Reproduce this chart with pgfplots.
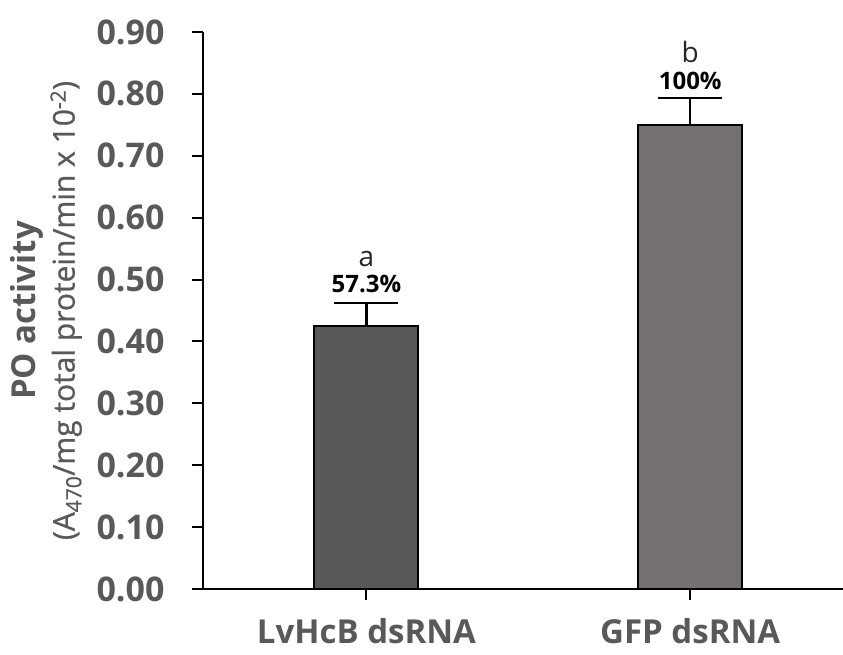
\documentclass[border=0pt]{standalone}
\usepackage{fontspec}
\setmainfont{Open Sans}
\newfontfamily\osmed[FakeBold=0.8]{Open Sans}
\usepackage{pgfplots}
\pgfplotsset{compat=1.18}
\definecolor{tgray}{HTML}{595959}
\definecolor{barA}{HTML}{595959}
\definecolor{barB}{HTML}{767171}
\begin{document}
\begin{tikzpicture}
\useasboundingbox (-203pt,-66pt) rectangle (640pt,589pt);
\begin{axis}[
  scale only axis, width=640pt, height=557pt,
  anchor=south west, at={(0pt,0pt)},
  xmin=-0.505, xmax=1.472, ymin=0, ymax=0.9,
  axis x line*=bottom, axis y line*=left,
  axis line style={line width=2pt, black, -},
  tick align=outside, major tick length=11pt,
  tick style={line width=2pt, black},
  xtick={0,1}, xticklabels={LvHcB dsRNA, GFP dsRNA},
  ytick={0,0.1,0.2,0.3,0.4,0.5,0.6,0.7,0.8,0.9},
  yticklabel style={/pgf/number format/fixed, /pgf/number format/fixed zerofill, /pgf/number format/precision=2, /pgf/number format/assume math mode=true,
    font=\fontsize{34}{34}\selectfont\bfseries, text=tgray, xshift=-24pt},
  xticklabel style={font=\fontsize{33}{33}\selectfont\bfseries, text=tgray, yshift=-15pt},
  ylabel style={at={(axis description cs:-0.245,0.5)}, anchor=center, rotate=0, align=center,
    text=tgray, font=\fontsize{30}{39}\selectfont},
  ylabel={{\fontsize{33}{33}\selectfont\bfseries PO activity}\\{\osmed (A\textsubscript{470}/mg total protein/min x 10\textsuperscript{-2})}},
  clip=false,
]
\addplot[ybar, bar shift=0pt, bar width=104pt, fill=barA, draw=black, line width=2pt,
  error bars/.cd, y dir=plus, y explicit,
  error bar style={line width=2.2pt, black},
  error mark options={line width=2.2pt, black, mark size=32pt, rotate=90}]
  coordinates {(0,0.425) +- (0,0.0375)};
\addplot[ybar, bar shift=0pt, bar width=104pt, fill=barB, draw=black, line width=2pt,
  error bars/.cd, y dir=plus, y explicit,
  error bar style={line width=2.2pt, black},
  error mark options={line width=2.2pt, black, mark size=32pt, rotate=90}]
  coordinates {(1,0.749) +- (0,0.044)};
\node[anchor=base, yshift=10pt, font=\fontsize{24}{24}\selectfont\bfseries] at (axis cs:0,0.4625) {57.3\%};
\node[anchor=base, yshift=36pt, font=\fontsize{28}{28}\selectfont, text=black!85] at (axis cs:0,0.4625) {a};
\node[anchor=base, yshift=9pt, font=\fontsize{24}{24}\selectfont\bfseries] at (axis cs:1,0.793) {100\%};
\node[anchor=base, yshift=36pt, font=\fontsize{28}{28}\selectfont, text=black!85] at (axis cs:1,0.793) {b};
\end{axis}
\end{tikzpicture}
\end{document}
